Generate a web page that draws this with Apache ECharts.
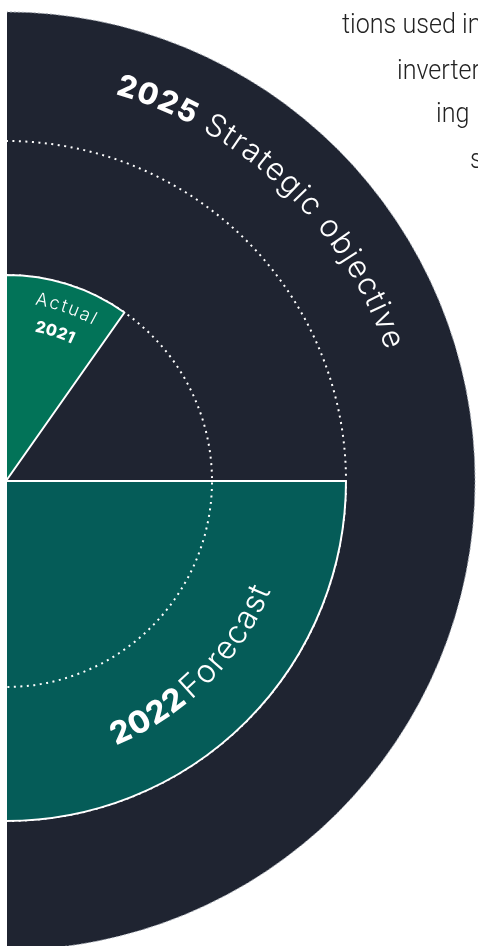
<!DOCTYPE html>
<html><head><meta charset="utf-8">
<script src="https://cdn.jsdelivr.net/npm/echarts@6/dist/echarts.min.js"></script>
<style>html,body{margin:0;padding:0;background:#fff;overflow:hidden}#c{width:478px;height:946px}</style>
</head><body><div id="c"></div>
<script>
// ---- data ----
const categories = ['Actual 2021', '2022 Forecast', '2025 Strategic objective'];
const years = ['2021', '2022', '2025'];
const labels = ['Actual', 'Forecast', 'Strategic objective'];
const shares = [19.5, 50, 100];          // % of the half circle
const bodyLines = ['tions used in', 'inverter', 'ing', 's'];

// ---- layout / style ----
const CX = 6, CY = 481;
const R_OBJ = 469, R_FC = 340, R_ACT = 206;
const DARK = '#1f2431', TEAL = '#055c58', GREEN = '#027358';
const FULL = 200; // pie total = full circle in "% of half circle"

const chart = echarts.init(document.getElementById('c'), null, {renderer: 'canvas'});

function pie(name, radius, startAngle, value, itemStyle) {
  return {
    type: 'pie', name, silent: true, animation: false,
    center: [CX, CY], radius: [0, radius], startAngle, clockwise: true,
    avoidLabelOverlap: false, minAngle: 0,
    label: {show: false}, labelLine: {show: false}, emphasis: {disabled: true},
    data: [
      {value, name, itemStyle},
      {value: FULL - value, name: name + ' rest', itemStyle: {color: 'transparent', borderWidth: 0}}
    ]
  };
}
const dotted = {color: 'transparent', borderColor: '#ffffff', borderWidth: 2, borderType: [2, 4.5]};

const series = [
  pie(categories[2], R_OBJ, 90, shares[2], {color: DARK, borderColor: '#9aa0aa', borderWidth: 1, borderType: [2, 2]}),
  pie('guide outer', R_FC, 90, shares[2], dotted),
  pie(categories[1], R_FC, 0, shares[1], {color: TEAL, borderColor: '#ffffff', borderWidth: 2}),
  pie('guide inner', R_ACT, 90, shares[2], dotted),
  pie(categories[0], R_ACT, 90, shares[0], {color: GREEN, borderColor: '#ffffff', borderWidth: 2})
];

// ---- curved text helpers ----
const mctx = document.createElement('canvas').getContext('2d');
const FAM = 'Inter, "Noto Sans", sans-serif';
function chars(parts) {
  const out = [];
  parts.forEach(p => {
    const font = p.weight + ' ' + p.size + 'px ' + FAM;
    mctx.font = font;
    for (const ch of p.text) out.push({ch, font, w: mctx.measureText(ch).width * (p.gap || 1)});
  });
  return out;
}
// upper style: tops outward, reading clockwise; angles from vertical (deg)
function arcTextOuter(parts, r, a0, a1) {
  const cs = chars(parts);
  const sum = cs.reduce((s, c) => s + c.w, 0);
  const target = (a1 - a0) * Math.PI / 180 * r;
  const sp = cs.length > 1 ? (target - sum) / (cs.length - 1) : 0;
  let cur = 0; const els = [];
  cs.forEach(c => {
    const th = a0 * Math.PI / 180 + (cur + c.w / 2) / r;
    els.push({type: 'text', z: 100, silent: true,
      x: CX + r * Math.sin(th), y: CY - r * Math.cos(th), rotation: -th,
      style: {text: c.ch, font: c.font, fill: '#ffffff', align: 'center', verticalAlign: 'middle'}});
    cur += c.w + sp;
  });
  return els;
}
// lower style: tops toward center, reading counter-clockwise; angles below horizontal (deg)
function arcTextInner(parts, r, a0, a1) {
  const cs = chars(parts);
  const sum = cs.reduce((s, c) => s + c.w, 0);
  const target = (a0 - a1) * Math.PI / 180 * r;
  const sp = cs.length > 1 ? (target - sum) / (cs.length - 1) : 0;
  let cur = 0; const els = [];
  cs.forEach(c => {
    const ph = a0 * Math.PI / 180 - (cur + c.w / 2) / r;
    els.push({type: 'text', z: 100, silent: true,
      x: CX + r * Math.cos(ph), y: CY + r * Math.sin(ph), rotation: Math.PI / 2 - ph,
      style: {text: c.ch, font: c.font, fill: '#ffffff', align: 'center', verticalAlign: 'middle'}});
    cur += c.w + sp;
  });
  return els;
}

const graphics = [];
graphics.push(...arcTextOuter([{text: years[2], weight: '800', size: 30}, {text: ' ' + labels[2], weight: '300', size: 31}], 411, 15.8, 71));
graphics.push(...arcTextInner([{text: years[1], weight: '800', size: 31}, {text: ' ', weight: '300', size: 31, gap: 0.3}, {text: labels[1], weight: '300', size: 32}], 277, 67.5, 22.5));
graphics.push(...arcTextOuter([{text: labels[0], weight: '300', size: 18}], 184, 9.3, 29));
graphics.push(...arcTextOuter([{text: years[0], weight: '800', size: 16}], 157, 10.8, 25.5));

// body text behind, wrapping around the circle
const bodyX = [342, 397, 436, 470];
const bodyY = [26, 72, 115, 161];
bodyLines.forEach((t, i) => {
  graphics.push({type: 'text', z: 100, silent: true, x: bodyX[i], y: bodyY[i], scaleX: 0.93,
    style: {text: t, font: '300 27px Roboto, sans-serif', fill: '#222222', align: 'left', verticalAlign: 'middle'}});
});
// left margin mask
graphics.push({type: 'rect', z: 90, silent: true, shape: {x: 0, y: 0, width: 7, height: 946}, style: {fill: '#ffffff'}});

chart.setOption({animation: false, backgroundColor: '#ffffff', series, graphic: graphics});
</script></body></html>
